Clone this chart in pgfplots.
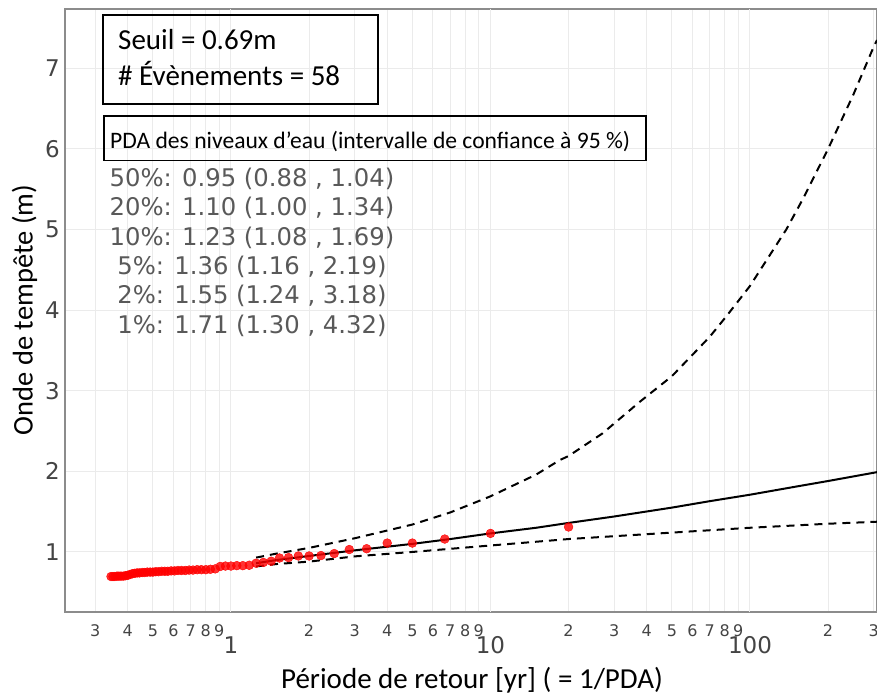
\documentclass[border=0pt]{standalone}
\usepackage{fontspec}
\setmainfont{Carlito}
\newfontfamily\vfont{DejaVu Sans}
\usepackage{pgfplots}
\usepackage{pgfplotstable}
\pgfplotsset{compat=1.18}
\definecolor{gridgray}{HTML}{EBEBEB}
\definecolor{axgray}{HTML}{8C8C8C}
\definecolor{tickgray}{HTML}{444444}
\definecolor{statgray}{HTML}{595959}

% observed events: return period T = 20/rank, surge (m)
\pgfplotstableread{
T y
20.000 1.31
10.000 1.23
6.667 1.16
5.000 1.11
4.000 1.11
3.333 1.04
2.857 1.03
2.500 0.98
2.222 0.955
2.000 0.95
1.818 0.95
1.667 0.93
1.538 0.925
1.429 0.885
1.333 0.87
1.250 0.86
1.176 0.835
1.111 0.83
1.053 0.83
1.000 0.825
0.952 0.825
0.909 0.82
0.870 0.79
0.833 0.785
0.800 0.78
0.769 0.78
0.741 0.78
0.714 0.775
0.690 0.775
0.667 0.77
0.645 0.77
0.625 0.77
0.606 0.765
0.588 0.765
0.571 0.76
0.556 0.76
0.541 0.76
0.526 0.755
0.513 0.755
0.500 0.75
0.488 0.75
0.476 0.75
0.465 0.745
0.455 0.745
0.444 0.74
0.435 0.74
0.426 0.735
0.417 0.73
0.408 0.72
0.400 0.71
0.392 0.705
0.385 0.70
0.377 0.70
0.370 0.70
0.364 0.70
0.357 0.695
0.351 0.695
0.345 0.695
}\tabobs

% fitted return level
\pgfplotstableread{
T y
1.25 0.86
1.5 0.90
2 0.95
3 1.02
5 1.10
7 1.16
10 1.23
15 1.30
20 1.36
30 1.44
50 1.55
70 1.63
100 1.71
150 1.81
200 1.88
308.7 1.99
}\tabfit

% 95% confidence bounds
\pgfplotstableread{
T y
1.25 0.82
1.5 0.85
2 0.88
3 0.945
5 1.00
10 1.08
20 1.16
50 1.24
100 1.30
200 1.35
308.7 1.375
}\tablow

\pgfplotstableread{
T y
1.25 0.93
1.5 0.98
2 1.05
3 1.17
5 1.34
7 1.49
10 1.69
15 1.96
18.5 2.14
20 2.19
27 2.47
37.7 2.865
50 3.18
60 3.445
70 3.67
80 3.90
90 4.11
100 4.30
138 5.00
160 5.38
200 6.00
250 6.67
300 7.27
308.7 7.35
}\tabup

\begin{document}
\begin{tikzpicture}
\begin{axis}[
  at={(65pt,86pt)}, anchor=south west,
  scale only axis, width=812pt, height=603pt,
  xmode=log, xmin=0.2293, xmax=308.7, ymin=0.255, ymax=7.736,
  axis line style={axgray, line width=1.3pt},
  grid=major, grid style={gridgray, line width=1pt},
  major tick length=0pt, minor tick length=0pt,
  xtick={0.3,0.4,0.5,0.6,0.7,0.8,0.9,2,3,4,5,6,7,8,9,20,30,40,50,60,70,80,90,200,300},
  xticklabels={3,4,5,6,7,8,9,2,3,4,5,6,7,8,9,2,3,4,5,6,7,8,9,2,3},
  xticklabel style={font=\vfont\fontsize{16}{16}\selectfont, text=tickgray, anchor=base, inner sep=0pt, yshift=-24pt},
  extra x ticks={1,10,100}, extra x tick labels={1,10,100},
  extra x tick style={grid=major, xticklabel style={font=\vfont\fontsize{23}{23}\selectfont, yshift=-17pt}},
  ytick={1,2,3,4,5,6,7}, yticklabels={1,2,3,4,5,6,7},
  yticklabel style={font=\vfont\fontsize{23}{23}\selectfont, text=tickgray, anchor=east, inner sep=0pt, xshift=-5pt},
]
\addplot[black, line width=2pt, dash pattern=on 8pt off 6pt] table {\tabup};
\addplot[black, line width=2pt, dash pattern=on 8pt off 6pt] table {\tablow};
\addplot[black, line width=2pt] table {\tabfit};
\addplot[only marks, mark=*, mark size=4.4pt, mark options={draw=red, fill=red, fill opacity=0.8}] table {\tabobs};
\end{axis}

\draw[line width=1.2pt] (103pt,683pt) rectangle (378pt,594pt);
\node[anchor=base west, inner sep=0pt, font=\fontsize{29}{29}\selectfont] at (118pt,648pt) {Seuil = 0.69m};
\node[anchor=base west, inner sep=0pt, font=\fontsize{29}{29}\selectfont] at (118pt,612pt) {\# Évènements = 58};
\draw[line width=1.2pt] (104pt,582pt) rectangle (646pt,537.5pt);
\node[anchor=base west, inner sep=0pt, font=\fontsize{23.6}{23.6}\selectfont] at (110pt,549.7pt) {PDA des niveaux d’eau (intervalle de confiance à 95 \%)};

\begin{scope}[every node/.style={anchor=base, inner sep=0pt, text=statgray, font=\vfont\fontsize{24.3}{24.3}\selectfont}]
\node at (252pt,511.6pt) {50\%: 0.95 (0.88 , 1.04)};
\node at (252pt,482.2pt) {20\%: 1.10 (1.00 , 1.34)};
\node at (252pt,452.8pt) {10\%: 1.23 (1.08 , 1.69)};
\node at (252pt,423.4pt) {5\%: 1.36 (1.16 , 2.19)};
\node at (252pt,394.0pt) {2\%: 1.55 (1.24 , 3.18)};
\node at (252pt,364.6pt) {1\%: 1.71 (1.30 , 4.32)};
\end{scope}

\node[anchor=base, inner sep=0pt, font=\fontsize{29}{29}\selectfont] at (472pt,10pt) {Période de retour [yr] ( = 1/PDA)};
\node[anchor=base, inner sep=0pt, rotate=90, font=\fontsize{28.5}{28.5}\selectfont] at (32.5pt,388pt) {Onde de tempête (m)};

\pgfresetboundingbox
\path[use as bounding box] (0pt,0pt) rectangle (877pt,698pt);
\end{tikzpicture}
\end{document}
